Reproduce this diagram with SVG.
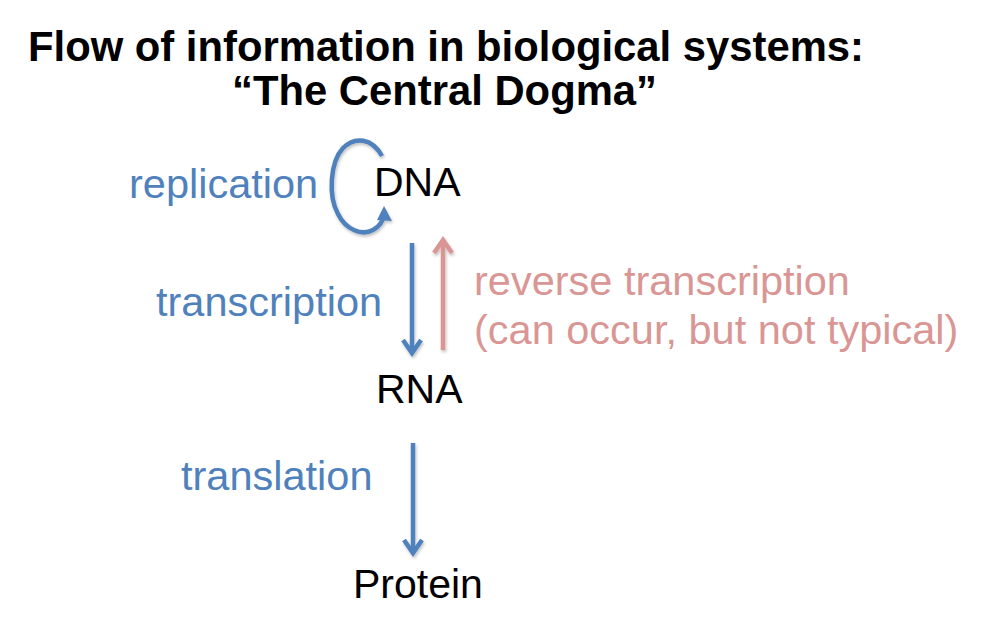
<svg xmlns="http://www.w3.org/2000/svg" width="995" height="635" viewBox="0 0 995 635">
<style>
.title{font-family:"Liberation Sans",Arial,sans-serif;font-weight:bold;font-size:41.8px;fill:#000}
.lbl{font-family:"Liberation Sans",Arial,sans-serif;font-size:41.5px}
.blk{fill:#000;font-size:41px}
.blue{fill:#4F81BD}
.pink{fill:#D99694}
.ab{stroke:#4F81BD;stroke-width:4.5;fill:none}
.ap{stroke:#D99694;stroke-width:4.5;fill:none}
</style>
<defs>
<filter id="sh" x="-50%" y="-50%" width="200%" height="200%">
<feDropShadow dx="1" dy="2" stdDeviation="1.5" flood-color="#000" flood-opacity="0.25"/>
</filter>
</defs>
<rect width="995" height="635" fill="#fff"/>
<g id="title">
<text class="title" x="28" y="61">Flow of information in biological systems:</text>
<text class="title" x="232" y="105">“The Central Dogma”</text>
</g>
<g id="dna"><text class="lbl blk" x="374" y="196">DNA</text></g>
<g id="rna"><text class="lbl blk" x="376" y="403">RNA</text></g>
<g id="protein"><text class="lbl blk" x="353" y="598">Protein</text></g>
<g id="labels">
<text class="lbl blue" x="129" y="198">replication</text>
<text class="lbl blue" x="156" y="316">transcription</text>
<text class="lbl blue" x="181" y="490">translation</text>
<text class="lbl pink" x="474" y="295">reverse transcription</text>
<text class="lbl pink" x="474" y="344">(can occur, but not typical)</text>
</g>
<g id="connectors" filter="url(#sh)">
<path class="ab" d="M382 156 C372 138,355 136,343 148 C330 162,328 196,338 214 C346 230,362 236,373 230 C380 226,383 222,384 215"/>
<path fill="#4F81BD" d="M384 206 L392 221 L377 220 Z"/>
<line class="ab" x1="412" y1="243" x2="412" y2="352"/>
<path class="ab" stroke-width="5" d="M403 340 L412 353 L421 340"/>
<line class="ap" x1="443" y1="350" x2="443" y2="241"/>
<path class="ap" stroke-width="5" d="M434 253 L443 240 L452 253"/>
<line class="ab" x1="413" y1="443" x2="413" y2="552"/>
<path class="ab" stroke-width="5" d="M404 540 L413 553 L422 540"/>
</g>
</svg>
